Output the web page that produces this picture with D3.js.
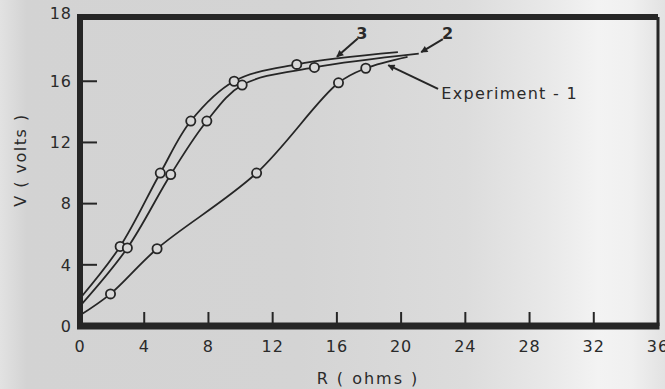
<!DOCTYPE html>
<html>
<head>
<meta charset="utf-8">
<title>V vs R</title>
<script src="https://d3js.org/d3.v7.min.js"></script>
<style>
  body { margin: 0; background: #d6d6d6; }
  text { font-family: "DejaVu Sans", sans-serif; fill: #2a2a2a; }
</style>
</head>
<body>
<script>
// axis ticks
const rTicks = [0, 4, 8, 12, 16, 20, 24, 28, 32, 36];
const vTicks = [0, 4, 8, 12, 16];
const vTopLabel = "18";   // printed at the top of the frame in the original
const rMax = 36, vMax = 20.2;

// curves: first and last points are the line ends, the rest are the measured circles
const curve3R = [0, 2.5, 5.0, 6.9, 9.6, 13.5, 19.8];
const curve3V = [1.8, 5.2, 10.0, 13.4, 16.0, 17.1, 17.9];
const curve2R = [0, 2.95, 5.65, 7.9, 10.1, 14.6, 21.1];
const curve2V = [1.3, 5.1, 9.9, 13.4, 15.75, 16.9, 17.8];
const exp1R = [0, 1.9, 4.8, 11.0, 16.1, 17.8, 20.4];
const exp1V = [0.7, 2.1, 5.05, 10.0, 15.9, 16.85, 17.6];

const width = 665, height = 389;

const svg = d3.select('body').append('svg')
    .attr('width', width)
    .attr('height', height);

// scanned paper background
const defs = svg.append('defs');
const grad = defs.append('linearGradient')
    .attr('id', 'paper')
    .attr('x1', 0).attr('x2', 1).attr('y1', 0).attr('y2', 0);
[[0, '#e2e2e2'], [0.04, '#d3d3d3'], [0.45, '#d4d4d4'], [0.7, '#dcdcdc'],
 [0.82, '#e8e8e8'], [0.9, '#f3f3f3'], [0.95, '#f0f0f0'], [1, '#e2e2e2']]
    .forEach(s => grad.append('stop').attr('offset', s[0]).attr('stop-color', s[1]));

svg.append('rect').attr('width', width).attr('height', height).attr('fill', 'url(#paper)');

defs.append('marker')
    .attr('id', 'head')
    .attr('viewBox', '0 0 10 10')
    .attr('refX', 9).attr('refY', 5)
    .attr('markerWidth', 9).attr('markerHeight', 7)
    .attr('markerUnits', 'userSpaceOnUse')
    .attr('orient', 'auto')
    .append('path')
    .attr('d', 'M0,0 L10,5 L0,10 Z')
    .attr('fill', '#262626');

const x = d3.scaleLinear().domain([0, rMax]).range([80, 658]);
const y = d3.scaleLinear().domain([0, vMax]).range([326, 17]);

const ink = '#262626';

// frame
svg.append('line').attr('x1', x(0)).attr('x2', x(rMax)).attr('y1', y(vMax)).attr('y2', y(vMax))
    .attr('stroke', ink).attr('stroke-width', 6);
svg.append('line').attr('x1', x(rMax)).attr('x2', x(rMax)).attr('y1', y(vMax)).attr('y2', y(0))
    .attr('stroke', ink).attr('stroke-width', 3);
svg.append('line').attr('x1', x(0) - 3).attr('x2', x(rMax) + 1.5).attr('y1', y(0)).attr('y2', y(0))
    .attr('stroke', ink).attr('stroke-width', 7);
svg.append('line').attr('x1', x(0)).attr('x2', x(0)).attr('y1', y(vMax) - 3).attr('y2', y(0))
    .attr('stroke', ink).attr('stroke-width', 6);

// x ticks (inward)
svg.append('g').selectAll('line')
    .data(rTicks.filter(d => d > 0 && d < rMax))
    .join('line')
    .attr('x1', d => x(d)).attr('x2', d => x(d))
    .attr('y1', y(0)).attr('y2', y(0) - 14)
    .attr('stroke', ink).attr('stroke-width', 2);

svg.append('g').selectAll('text')
    .data(rTicks)
    .join('text')
    .attr('x', d => x(d))
    .attr('y', 352)
    .attr('text-anchor', 'middle')
    .attr('font-size', 16)
    .attr('letter-spacing', 1)
    .text(d => d);

// y ticks (inward)
svg.append('g').selectAll('line')
    .data(vTicks.filter(d => d > 0))
    .join('line')
    .attr('x1', x(0)).attr('x2', x(0) + 17)
    .attr('y1', d => y(d)).attr('y2', d => y(d))
    .attr('stroke', ink).attr('stroke-width', 2);

svg.append('g').selectAll('text')
    .data(vTicks)
    .join('text')
    .attr('x', 72)
    .attr('y', d => y(d))
    .attr('dy', '0.36em')
    .attr('text-anchor', 'end')
    .attr('font-size', 16)
    .attr('letter-spacing', 1)
    .text(d => d);

svg.append('text')
    .attr('x', 72)
    .attr('y', y(vMax))
    .attr('dy', '0.1em')
    .attr('text-anchor', 'end')
    .attr('font-size', 16)
    .attr('letter-spacing', 1)
    .text(vTopLabel);

// axis titles
svg.append('text')
    .attr('x', 368).attr('y', 384)
    .attr('text-anchor', 'middle')
    .attr('font-size', 16)
    .attr('letter-spacing', 2)
    .text('R ( ohms )');

svg.append('text')
    .attr('transform', 'translate(26,160) rotate(-90)')
    .attr('text-anchor', 'middle')
    .attr('font-size', 16)
    .attr('letter-spacing', 1.5)
    .text('V ( volts )');

// curves
const series = [
    { r: curve3R, v: curve3V },
    { r: curve2R, v: curve2V },
    { r: exp1R, v: exp1V }
];

const line = d3.line()
    .x(d => x(d[0]))
    .y(d => y(d[1]))
    .curve(d3.curveCatmullRom.alpha(0.5));

series.forEach(s => {
    const pts = s.r.map((r, i) => [r, s.v[i]]);
    svg.append('path')
        .datum(pts)
        .attr('d', line)
        .attr('fill', 'none')
        .attr('stroke', ink)
        .attr('stroke-width', 1.8);
    svg.append('g').selectAll('circle')
        .data(pts.slice(1, -1))
        .join('circle')
        .attr('cx', d => x(d[0]))
        .attr('cy', d => y(d[1]))
        .attr('r', 4.6)
        .attr('fill', '#d8d8d8')
        .attr('stroke', ink)
        .attr('stroke-width', 1.8);
});

// annotations: [tailR, tailV, tipR, tipV]
const arrows = [
    [17.3, 18.8, 16.0, 17.6],
    [22.6, 18.75, 21.25, 17.9],
    [22.3, 15.5, 19.2, 17.05]
];
svg.append('g').selectAll('line')
    .data(arrows)
    .join('line')
    .attr('x1', d => x(d[0])).attr('y1', d => y(d[1]))
    .attr('x2', d => x(d[2])).attr('y2', d => y(d[3]))
    .attr('stroke', ink).attr('stroke-width', 2)
    .attr('marker-end', 'url(#head)');

const labels = [
    ['3', 17.55, 19.17, 'middle'],
    ['2', 22.9, 19.17, 'middle'],
    ['Experiment - 1', 22.5, 15.2, 'start']
];
svg.append('g').selectAll('text')
    .data(labels)
    .join('text')
    .attr('x', d => x(d[1]))
    .attr('y', d => y(d[2]))
    .attr('dy', '0.36em')
    .attr('text-anchor', d => d[3])
    .attr('font-size', 16)
    .attr('font-weight', d => d[0].length === 1 ? 'bold' : 'normal')
    .attr('letter-spacing', d => d[0].length === 1 ? 0 : 1.3)
    .text(d => d[0]);
</script>
</body>
</html>
